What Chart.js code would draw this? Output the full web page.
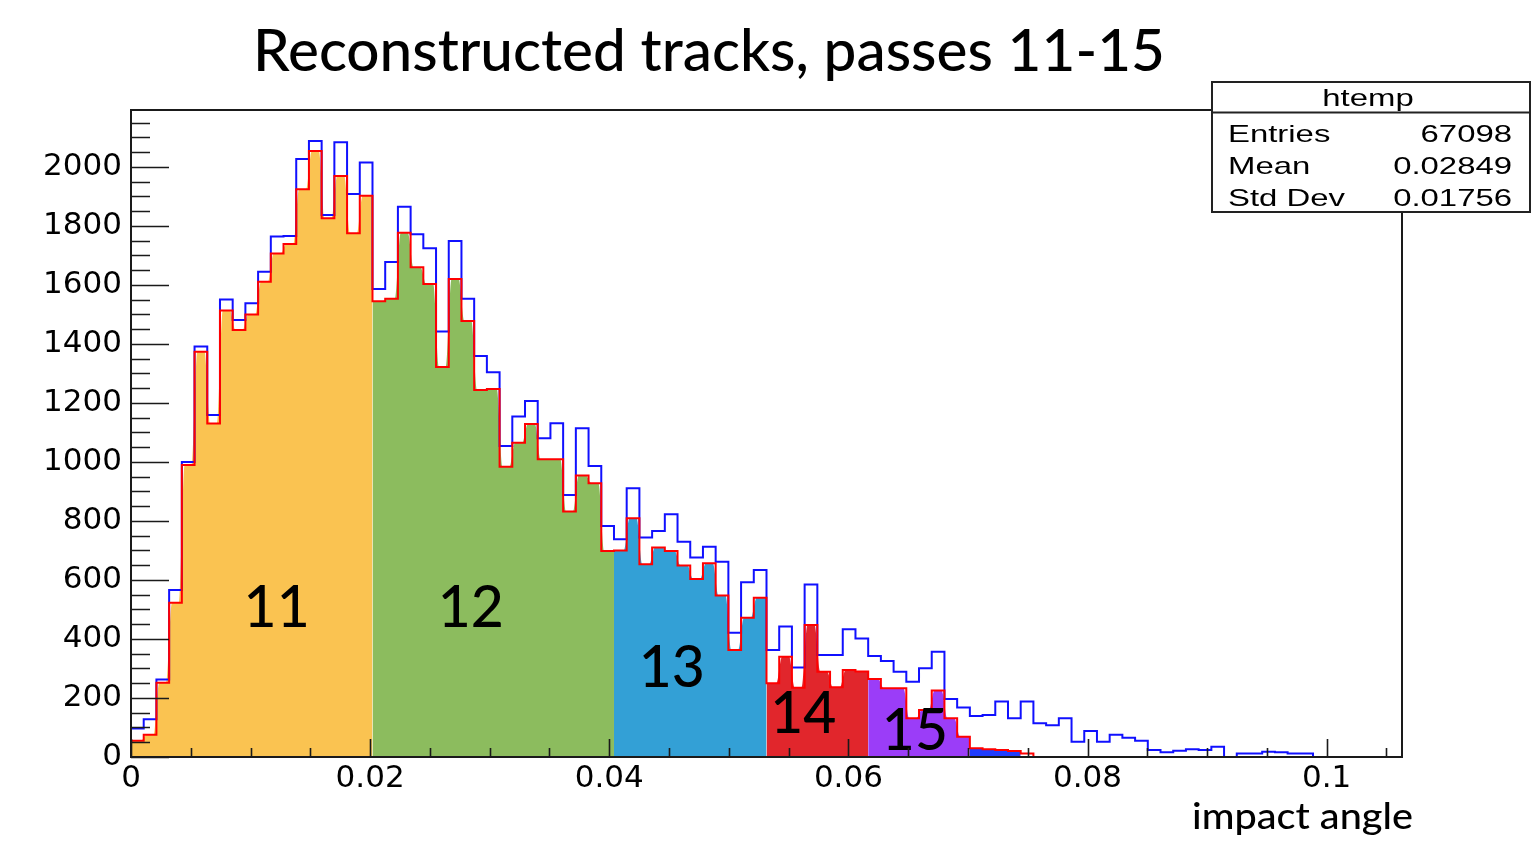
<!DOCTYPE html>
<html>
<head>
<meta charset="utf-8">
<title>Reconstructed tracks, passes 11-15</title>
<script src="https://cdn.jsdelivr.net/npm/chart.js@4.4.1/dist/chart.umd.min.js"></script>
<style>
  html, body { margin: 0; padding: 0; background: #ffffff; }
  #wrap { width: 1536px; height: 851px; }
</style>
</head>
<body>
<div id="wrap"><canvas id="c" width="1536" height="851"></canvas></div>
<script>
// Histogram binning of the impact angle (100 equal bins)
const xMin = 0;
const xMax = 0.1063;
const binCount = 100;

// All reconstructed tracks (blue outline)
const allTracks = [
  97, 128, 263, 566, 1000, 1391, 1159, 1551, 1481, 1538,
  1645, 1764, 1766, 2027, 2088, 1837, 2084, 1908, 2015, 1586,
  1678, 1865, 1772, 1724, 1442, 1749, 1553, 1359, 1304, 1054,
  1154, 1207, 1080, 1131, 888, 1114, 986, 783, 738, 911,
  744, 766, 823, 730, 676, 713, 662, 421, 592, 634,
  363, 442, 303, 585, 346, 346, 433, 402, 342, 325,
  289, 255, 301, 357, 197, 168, 139, 142, 188, 131,
  188, 114, 108, 131, 52, 88, 52, 75, 65, 55,
  24, 16, 21, 26, 24, 35, 0, 12, 12, 18,
  16, 12, 12, 0, 0, 0, 0, 0, 0, 0
];

// Tracks from passes 11-15 (red outline)
const passTracks = [
  55, 75, 252, 523, 990, 1374, 1130, 1513, 1447, 1500,
  1611, 1707, 1739, 1924, 2054, 1826, 1969, 1775, 1902, 1545,
  1553, 1777, 1660, 1603, 1322, 1620, 1478, 1244, 1247, 984,
  1065, 1129, 1009, 1009, 832, 954, 928, 698, 700, 809,
  653, 710, 698, 649, 603, 657, 547, 363, 472, 540,
  250, 340, 235, 447, 289, 236, 295, 290, 264, 233,
  233, 131, 159, 225, 131, 69, 30, 26, 24, 20,
  12, 0, 0, 0, 0, 0, 0, 0, 0, 0,
  0, 0, 0, 0, 0, 0, 0, 0, 0, 0,
  0, 0, 0, 0, 0, 0, 0, 0, 0, 0
];

// Pass bands painted under the red histogram
const passNames     = ['11', '12', '13', '14', '15', ''];
const passFirstBin  = [0, 19, 38, 50, 58, 66];
const passLastBin   = [18, 37, 49, 57, 65, 69];
const passColors    = ['#FAC351', '#8CBC5E', '#33A0D6', '#E1262C', '#9B3DF8', '#1F3DFF'];
const passLabelX    = [0.01218, 0.02841, 0.04523, 0.05623, 0.06556, 0];
const passLabelY    = [441, 441, 237, 80, 24, 0];

// Axis ticks
const xTickValues = [0, 0.02, 0.04, 0.06, 0.08, 0.1];
const xTickLabels = ['0', '0.02', '0.04', '0.06', '0.08', '0.1'];
const yTickValues = [0, 200, 400, 600, 800, 1000, 1200, 1400, 1600, 1800, 2000];
const yTickLabels = ['0', '200', '400', '600', '800', '1000', '1200', '1400', '1600', '1800', '2000'];
const yMax = 2193;

// Statistics box
const statTitle  = 'htemp';
const statNames  = ['Entries', 'Mean', 'Std Dev'];
const statValues = ['67098', '0.02849', '0.01756'];

const titleText = 'Reconstructed tracks, passes 11-15';
const xAxisTitle = 'impact angle';

// ---- build datasets ----
const binWidth = (xMax - xMin) / binCount;
const edge = i => xMin + i * binWidth;

function stepPoints(values) {
  const pts = values.map((v, i) => ({ x: edge(i), y: v }));
  pts.push({ x: edge(values.length), y: values[values.length - 1] });
  return pts;
}

// Softened step outline for a band of bins
function bandPoints(values, first, last) {
  const inset = 0.22 * binWidth;
  const pts = [{ x: edge(first), y: values[first] }];
  for (let i = first; i <= last; i++) {
    pts.push({ x: edge(i) + inset, y: values[i] });
    pts.push({ x: edge(i + 1) - inset, y: values[i] });
  }
  pts.push({ x: edge(last + 1), y: values[last] });
  return pts;
}

const datasets = [
  {
    label: 'passes 11-15',
    data: stepPoints(passTracks),
    stepped: true,
    borderColor: '#FF0000',
    borderWidth: 2,
    pointRadius: 0,
    fill: false,
    order: 0
  },
  {
    label: 'all tracks',
    data: stepPoints(allTracks),
    stepped: true,
    borderColor: '#1010FF',
    borderWidth: 2,
    pointRadius: 0,
    fill: false,
    order: 1
  }
];
passNames.forEach((name, k) => {
  datasets.push({
    label: 'pass ' + (name || '16'),
    data: bandPoints(passTracks, passFirstBin[k], passLastBin[k]),
    borderWidth: 0,
    borderColor: 'rgba(0,0,0,0)',
    backgroundColor: passColors[k],
    pointRadius: 0,
    fill: 'origin',
    cubicInterpolationMode: 'monotone',
    order: 2
  });
});

// ---- drawing helpers ----
function stretchedText(ctx, text, x, y, font, align, sx) {
  ctx.save();
  ctx.font = font;
  ctx.textAlign = align;
  ctx.textBaseline = 'alphabetic';
  ctx.translate(x, y);
  ctx.scale(sx, 1);
  ctx.fillText(text, 0, 0);
  ctx.restore();
}

function fittedText(ctx, text, x, y, font, align, width) {
  ctx.save();
  ctx.font = font;
  const w = ctx.measureText(text).width;
  ctx.restore();
  stretchedText(ctx, text, x, y, font, align, width / w);
}

const decorations = {
  id: 'decorations',
  afterDatasetsDraw(chart) {
    const ctx = chart.ctx;
    const a = chart.chartArea;
    const xs = chart.scales.x;
    const ys = chart.scales.y;

    // pass numbers
    ctx.fillStyle = '#000000';
    passNames.forEach((name, k) => {
      if (!name) return;
      stretchedText(ctx, name, xs.getPixelForValue(passLabelX[k]), ys.getPixelForValue(passLabelY[k]),
        '500 57px Lato', 'center', 1.0);
    });

    // frame
    ctx.save();
    ctx.strokeStyle = '#1a1a1a';
    ctx.lineWidth = 2;
    ctx.strokeRect(a.left, a.top, a.right - a.left, a.bottom - a.top);

    // inward tick marks
    ctx.lineWidth = 1.6;
    ctx.beginPath();
    for (let v = 0; v <= yMax; v += 50) {
      const y = Math.round(ys.getPixelForValue(v)) + 0.5;
      const len = yTickValues.includes(v) ? 38 : 19;
      ctx.moveTo(a.left, y);
      ctx.lineTo(a.left + len, y);
    }
    for (let i = 0; ; i++) {
      const v = i * 0.005;
      if (v > xMax) break;
      const x = Math.round(xs.getPixelForValue(v)) + 0.5;
      const len = (i % 4 === 0) ? 18 : 9;
      ctx.moveTo(x, a.bottom);
      ctx.lineTo(x, a.bottom - len);
    }
    ctx.stroke();
    ctx.restore();

    // statistics box
    const bx = 1212, by = 82, bw = 318, bh = 130;
    ctx.save();
    ctx.fillStyle = '#ffffff';
    ctx.fillRect(bx, by, bw, bh);
    ctx.strokeStyle = '#222222';
    ctx.lineWidth = 2;
    ctx.strokeRect(bx, by, bw, bh);
    ctx.beginPath();
    ctx.moveTo(bx, 112.5);
    ctx.lineTo(bx + bw, 112.5);
    ctx.stroke();
    ctx.fillStyle = '#000000';
    const sf = '24px "Liberation Sans"';
    stretchedText(ctx, statTitle, 1368, 105.5, sf, 'center', 1.37);
    const rows = [141.5, 173.5, 205.5];
    statNames.forEach((n, i) => {
      stretchedText(ctx, n, 1228, rows[i], sf, 'left', 1.37);
      stretchedText(ctx, statValues[i], 1512, rows[i], sf, 'right', 1.37);
    });
    ctx.restore();

    // titles
    ctx.fillStyle = '#000000';
    fittedText(ctx, titleText, 709, 71, '500 57px Lato', 'center', 912);
    fittedText(ctx, xAxisTitle, 1413, 829, '500 37px Lato', 'right', 221);
  }
};

function fixedTicks(values) {
  return scale => { scale.ticks = values.map(v => ({ value: v })); };
}

new Chart(document.getElementById('c'), {
  type: 'line',
  data: { datasets },
  options: {
    responsive: false,
    devicePixelRatio: 1,
    animation: false,
    events: [],
    layout: { padding: { left: 0, right: 134, top: 110, bottom: 0 } },
    plugins: {
      legend: { display: false },
      title: { display: false },
      tooltip: { enabled: false }
    },
    scales: {
      x: {
        type: 'linear',
        min: xMin,
        max: xMax,
        afterFit: s => { s.height = 94; },
        afterBuildTicks: fixedTicks(xTickValues),
        grid: { display: false, drawTicks: false },
        border: { display: false },
        ticks: {
          autoSkip: false,
          maxRotation: 0,
          padding: 3,
          color: '#000000',
          font: { family: 'DejaVu Sans', size: 31 },
          callback: v => xTickLabels[xTickValues.findIndex(t => Math.abs(t - v) < 1e-9)]
        }
      },
      y: {
        type: 'linear',
        min: 0,
        max: yMax,
        afterFit: s => { s.width = 131; },
        afterBuildTicks: fixedTicks(yTickValues),
        grid: { display: false, drawTicks: false },
        border: { display: false },
        ticks: {
          autoSkip: false,
          padding: 9,
          color: '#000000',
          font: { family: 'DejaVu Sans', size: 31 },
          callback: v => yTickLabels[yTickValues.indexOf(v)]
        }
      }
    }
  },
  plugins: [decorations]
});
</script>
</body>
</html>
